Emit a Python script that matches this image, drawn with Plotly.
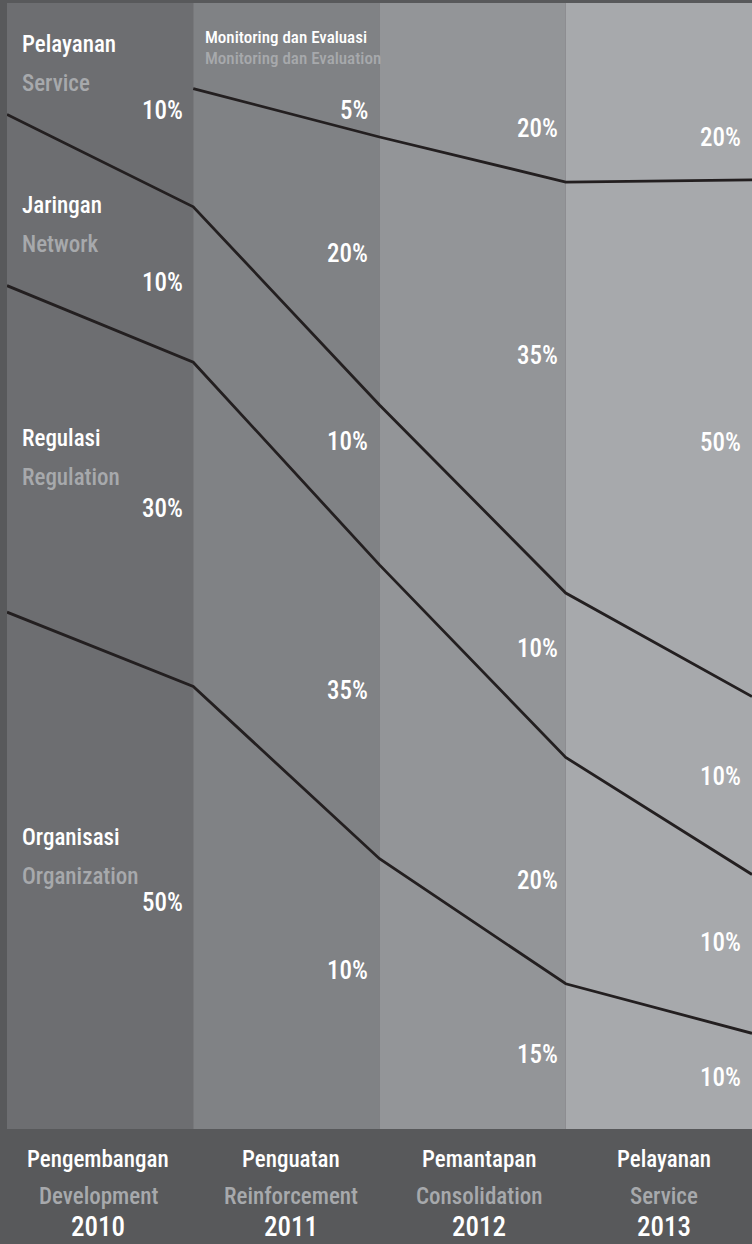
import plotly.graph_objects as go

# ---- data -------------------------------------------------------------
phases_id = ["Pengembangan", "Penguatan", "Pemantapan", "Pelayanan"]
phases_en = ["Development", "Reinforcement", "Consolidation", "Service"]
years = ["2010", "2011", "2012", "2013"]

# focus areas (Indonesian / English)
areas_id = ["Pelayanan", "Jaringan", "Regulasi", "Organisasi"]
areas_en = ["Service", "Network", "Regulation", "Organization"]
monitoring_id = "Monitoring dan Evaluasi"
monitoring_en = "Monitoring dan Evaluation"

# share of effort per phase, top to bottom
shares_2010 = [10, 10, 30, 50]
shares_2011 = [5, 20, 10, 35, 10]
shares_2012 = [20, 35, 10, 20, 15]
shares_2013 = [20, 50, 10, 10, 10]

# band boundaries (depth from top, % of column height) at phase edges 0..4
edge_x = [0, 1, 2, 3, 4]
boundary_monitoring = [None, 7.6, 11.9, 15.9, 15.7]
boundary_service = [9.9, 18.1, 35.7, 52.4, 61.6]
boundary_network = [25.1, 31.9, 49.9, 67.0, 77.4]
boundary_regulation = [54.1, 60.7, 76.0, 87.1, 91.5]

# ---- styling ----------------------------------------------------------
W, H = 752, 1244
M_L, M_R, M_T, M_B = 7, 0, 3, 115
PLOT_W = W - M_L - M_R
PLOT_H = H - M_T - M_B

BG = "#58595b"
COL_FILLS = ["#6d6e71", "#808285", "#939598", "#a7a9ac"]
LINE_COLOR = "#231f20"
WHITE = "#ffffff"
SOFT = "#a7a9ac"
FONT = "Roboto Condensed, Liberation Sans Narrow, DejaVu Sans Condensed, sans-serif"


def depth(py):
    """pixel row inside the figure -> depth on the reversed y axis"""
    return (py - M_T) / PLOT_H * 100


def col_x(px):
    """pixel column inside the figure -> position on the phase axis"""
    return (px - M_L) / PLOT_W * 4


def paper_y(py):
    return (H - M_B - py) / PLOT_H


def label(x, y, text, size, color, xanchor, xref="x", yref="y"):
    return dict(x=x, y=y, xref=xref, yref=yref, text=text, showarrow=False,
                xanchor=xanchor, yanchor="middle",
                font=dict(family=FONT, size=size, color=color, weight=500))


fig = go.Figure()

# phase columns
for i, c in enumerate(COL_FILLS):
    fig.add_shape(type="rect", xref="x", yref="y", x0=i, x1=i + 1, y0=0, y1=100,
                  fillcolor=c, line_width=0, layer="below")

# boundary lines
for ys in [boundary_monitoring, boundary_service, boundary_network, boundary_regulation]:
    xs = [x for x, y in zip(edge_x, ys) if y is not None]
    yv = [y for y in ys if y is not None]
    fig.add_trace(go.Scatter(x=xs, y=yv, mode="lines",
                             line=dict(color=LINE_COLOR, width=2.8),
                             hoverinfo="skip", showlegend=False))

annotations = []

# area names in the first column
name_rows = [44, 205, 438, 837]
for name_id, name_en, py in zip(areas_id, areas_en, name_rows):
    annotations.append(label(col_x(20), depth(py), name_id, 23, WHITE, "left"))
    annotations.append(label(col_x(20), depth(py + 39), name_en, 23, SOFT, "left"))

# monitoring label at the top of the second column
annotations.append(label(col_x(203), depth(37), monitoring_id, 17, WHITE, "left"))
annotations.append(label(col_x(203), depth(58), monitoring_en, 17, SOFT, "left"))

# percentage labels, right-aligned in each column
share_rows = [
    [110, 282, 508, 902],
    [110, 253, 441, 690, 970],
    [128, 355, 648, 880, 1054],
    [137, 442, 776, 942, 1077],
]
share_right = [185, 370, 560, 743]
for shares, rows, xr in zip([shares_2010, shares_2011, shares_2012, shares_2013],
                            share_rows, share_right):
    for v, py in zip(shares, rows):
        annotations.append(label(col_x(xr), depth(py), f"{v}%", 25, WHITE, "right"))

# phase captions under the columns
caption_cx = [98, 291, 479, 664]
for i in range(4):
    cx = col_x(caption_cx[i])
    annotations.append(label(cx, paper_y(1159), phases_id[i], 23, WHITE, "center", yref="paper"))
    annotations.append(label(cx, paper_y(1196), phases_en[i], 23, SOFT, "center", yref="paper"))
    annotations.append(label(cx, paper_y(1227), years[i], 27, WHITE, "center", yref="paper"))

fig.update_layout(
    width=W, height=H,
    margin=dict(l=M_L, r=M_R, t=M_T, b=M_B),
    paper_bgcolor=BG, plot_bgcolor=BG,
    xaxis=dict(range=[0, 4], visible=False, fixedrange=True),
    yaxis=dict(range=[100, 0], visible=False, fixedrange=True),
    annotations=annotations,
    showlegend=False,
)

fig.write_html("out.html", config={"displayModeBar": False})
